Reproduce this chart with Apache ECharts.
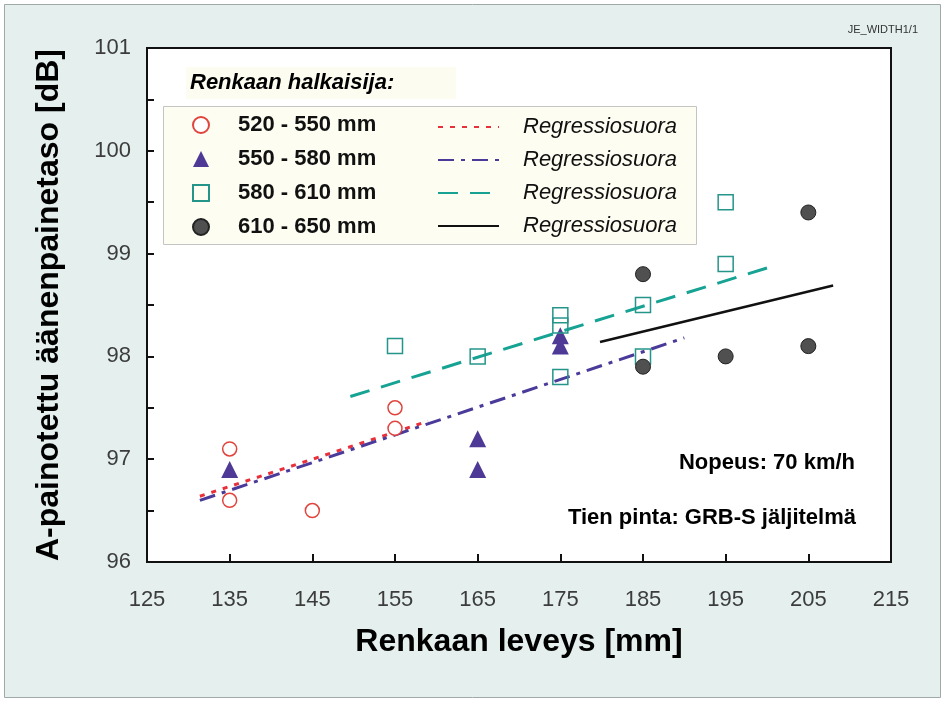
<!DOCTYPE html>
<html>
<head>
<meta charset="utf-8">
<script src="https://cdn.jsdelivr.net/npm/echarts@6/dist/echarts.min.js"></script>
<style>
html,body{margin:0;padding:0;background:#fff;}
#chart{width:948px;height:709px;}
</style>
</head>
<body>
<div id="chart"></div>
<script>
// ---- data ----
const groupNames = ['520 - 550 mm', '550 - 580 mm', '580 - 610 mm', '610 - 650 mm'];
const regName = 'Regressiosuora';

const width520 = [135, 135, 145, 155, 155];
const level520 = [97.1, 96.6, 96.5, 97.5, 97.3];

const width550 = [135, 165, 165, 175, 175];
const level550 = [96.9, 97.2, 96.9, 98.2, 98.1];

const width580 = [155, 165, 175, 175, 175, 185, 185, 195, 195];
const level580 = [98.1, 98.0, 98.4, 98.3, 97.8, 98.5, 98.0, 98.9, 99.5];

const width610 = [185, 185, 195, 205, 205];
const level610 = [98.8, 97.9, 98.0, 98.1, 99.4];

// regression line end points
const regX520 = [131.4, 159];
const regY520 = [96.64, 97.37];
const regX550 = [131.4, 190];
const regY550 = [96.6, 98.18];
const regX580 = [149.6, 200];
const regY580 = [97.61, 98.86];
const regX610 = [179.8, 208];
const regY610 = [98.14, 98.69];

const xTicks = [125, 135, 145, 155, 165, 175, 185, 195, 205, 215];
const yTicks = [96, 97, 98, 99, 100, 101];

const zip = (a, b) => a.map((v, i) => [v, b[i]]);

const FONT = 'Arial, "Liberation Sans", sans-serif';

const chart = echarts.init(document.getElementById('chart'), null, {renderer: 'canvas'});

const option = {
  backgroundColor: '#ffffff',
  animation: false,
  title: {
    text: 'Renkaan halkaisija:',
    left: 186,
    top: 67,
    padding: [5, 62, 5, 4],
    backgroundColor: '#fcfcf1',
    textStyle: {fontFamily: FONT, fontSize: 22, fontWeight: 'bold', fontStyle: 'italic', color: '#000'}
  },
  graphic: [
    {type: 'rect', z: -100, shape: {x: 4.5, y: 4.5, width: 936, height: 693},
     style: {fill: '#e4efee', stroke: '#a0a8a8', lineWidth: 1}},
    {type: 'rect', z: 1, shape: {x: 163.5, y: 106.5, width: 533, height: 138},
     style: {fill: '#fdfdf2', stroke: '#c4c4c4', lineWidth: 1}},
    {type: 'text', z: 5, x: 918, y: 30,
     style: {text: 'JE_WIDTH1/1', font: '11px ' + FONT, fill: '#333', textAlign: 'right', textVerticalAlign: 'middle'}},
    {type: 'text', z: 5, x: 855, y: 463,
     style: {text: 'Nopeus: 70 km/h', font: 'bold 22px ' + FONT, fill: '#000', textAlign: 'right', textVerticalAlign: 'middle'}},
    {type: 'text', z: 5, x: 856, y: 518,
     style: {text: 'Tien pinta: GRB-S jäljitelmä', font: 'bold 22px ' + FONT, fill: '#000', textAlign: 'right', textVerticalAlign: 'middle'}}
  ],
  legend: [
    {
      data: groupNames,
      orient: 'vertical',
      left: 192, top: 114,
      padding: 0,
      itemWidth: 16, itemHeight: 16,
      itemGap: 12,
      z: 6,
      textStyle: {fontFamily: FONT, fontSize: 22, fontWeight: 'bold', color: '#111', lineHeight: 22, padding: [0, 0, 0, 24]}
    },
    {
      data: ['r1', 'r2', 'r3', 'r4'],
      formatter: () => regName,
      orient: 'vertical',
      left: 437, top: 116,
      padding: 0,
      itemWidth: 61, itemHeight: 14,
      itemGap: 11,
      z: 6,
      itemStyle: {opacity: 0},
      textStyle: {fontFamily: FONT, fontSize: 22, fontStyle: 'italic', color: '#111', lineHeight: 22, padding: [0, 0, 0, 19]}
    }
  ],
  grid: {
    left: 147, right: 57, top: 48, bottom: 147,
    show: true, backgroundColor: '#ffffff', borderColor: '#111', borderWidth: 2
  },
  xAxis: {
    type: 'value', min: xTicks[0], max: xTicks[xTicks.length - 1], interval: 10,
    name: 'Renkaan leveys [mm]', nameLocation: 'middle', nameGap: 64,
    nameTextStyle: {fontFamily: FONT, fontSize: 32, fontWeight: 'bold', color: '#000'},
    axisLine: {lineStyle: {color: '#111', width: 2}},
    axisTick: {inside: true, length: 8, lineStyle: {color: '#111', width: 2}},
    axisLabel: {fontFamily: FONT, fontSize: 22, color: '#3c3c3c', margin: 27},
    splitLine: {show: false}
  },
  yAxis: {
    type: 'value', min: yTicks[0], max: yTicks[yTicks.length - 1], interval: 0.5,
    name: 'A-painotettu äänenpainetaso [dB]', nameLocation: 'middle', nameGap: 82, nameRotate: 90,
    nameTextStyle: {fontFamily: FONT, fontSize: 32, fontWeight: 'bold', color: '#000'},
    axisLine: {show: true, lineStyle: {color: '#111', width: 2}},
    axisTick: {inside: true, length: 7, lineStyle: {color: '#111', width: 2}},
    axisLabel: {fontFamily: FONT, fontSize: 22, color: '#3c3c3c', margin: 16,
      formatter: v => (yTicks.indexOf(v) >= 0 ? String(v) : '')},
    splitLine: {show: false}
  },
  series: [
    {name: groupNames[0], type: 'scatter', data: zip(width520, level520), symbol: 'circle', symbolSize: 14, z: 3,
     itemStyle: {color: '#ffffff', borderColor: '#e0443c', borderWidth: 1.5, opacity: 1}},
    {name: groupNames[1], type: 'scatter', data: zip(width550, level550), symbol: 'triangle', symbolSize: 17, z: 3,
     itemStyle: {color: '#4e3a96', opacity: 1}},
    {name: groupNames[2], type: 'scatter', data: zip(width580, level580), symbol: 'rect', symbolSize: 15, z: 3,
     itemStyle: {color: 'rgba(255,255,255,0)', borderColor: '#25958a', borderWidth: 1.5, opacity: 1}},
    {name: groupNames[3], type: 'scatter', data: zip(width610, level610), symbol: 'circle', symbolSize: 15, z: 3,
     itemStyle: {color: '#505050', borderColor: '#222', borderWidth: 1, opacity: 1}},
    {name: 'r1', type: 'line', data: zip(regX520, regY520), symbol: 'none', z: 2,
     lineStyle: {color: '#e8303a', width: 3, type: [5, 7]}, itemStyle: {color: '#e8303a'}},
    {name: 'r2', type: 'line', data: zip(regX550, regY550), symbol: 'none', z: 2,
     lineStyle: {color: '#4a3a9a', width: 3, type: [16, 7, 4, 7]}, itemStyle: {color: '#4a3a9a'}},
    {name: 'r3', type: 'line', data: zip(regX580, regY580), symbol: 'none', z: 2,
     lineStyle: {color: '#17a394', width: 3, type: [20, 12]}, itemStyle: {color: '#17a394'}},
    {name: 'r4', type: 'line', data: zip(regX610, regY610), symbol: 'none', z: 2,
     lineStyle: {color: '#111', width: 2.5, type: 'solid'}, itemStyle: {color: '#111'}}
  ]
};
chart.setOption(option);
</script>
</body>
</html>
